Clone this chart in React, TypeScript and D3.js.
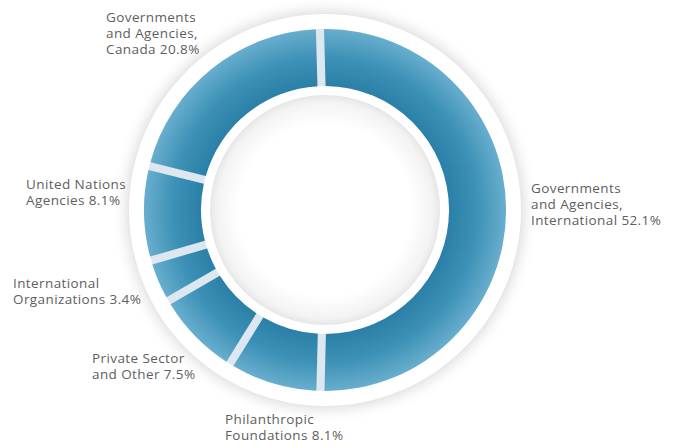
import React from "react";
import * as d3 from "d3";

const categories = [
  "Governments and Agencies, International",
  "Philanthropic Foundations",
  "Private Sector and Other",
  "International Organizations",
  "United Nations Agencies",
  "Governments and Agencies, Canada",
];
const values = [52.1, 8.1, 7.5, 3.4, 8.1, 20.8];
const labelLines = [
  ["Governments", "and Agencies,", "International 52.1%"],
  ["Philanthropic", "Foundations 8.1%"],
  ["Private Sector", "and Other 7.5%"],
  ["International", "Organizations 3.4%"],
  ["United Nations", "Agencies 8.1%"],
  ["Governments", "and Agencies,", "Canada 20.8%"],
];

const W = 673;
const H = 447;
const cx = 325;
const cy = 210;
const rOuter = 181;
const rInner = 124;
const labelPos: [number, number][] = [
  [531, 193],
  [225, 424],
  [92, 363],
  [13, 288],
  [26, 189],
  [106, 22],
];

export default function App() {
  const pie = d3
    .pie<number>()
    .sort(null)
    .startAngle(-0.028)
    .endAngle(-0.028 + Math.PI * 2)
    .padAngle(0.037);
  const arcs = pie(values);
  const arc = d3.arc<d3.PieArcDatum<number>>().innerRadius(rInner).outerRadius(rOuter);
  const ring = d3.arc()({ innerRadius: rInner, outerRadius: rOuter, startAngle: 0, endAngle: Math.PI * 2 }) || "";
  return (
    <svg width={W} height={H} style={{ position: "absolute", left: 0, top: 0, background: "#fff" }}>
      <defs>
        <radialGradient id="outerShadow" gradientUnits="userSpaceOnUse" cx={cx} cy={cy} r={214}>
          <stop offset="0.88" stopColor="#c8c8c8" stopOpacity={0.9} />
          <stop offset="0.93" stopColor="#e2e2e2" stopOpacity={0.6} />
          <stop offset="1" stopColor="#ffffff" stopOpacity={0} />
        </radialGradient>
        <radialGradient id="seg" gradientUnits="userSpaceOnUse" cx={0} cy={0} r={rOuter}>
          <stop offset="0.68" stopColor="#2a7fa6" />
          <stop offset="0.84" stopColor="#3d91b7" />
          <stop offset="1" stopColor="#68aece" />
        </radialGradient>
        <radialGradient id="innerShadow" gradientUnits="userSpaceOnUse" cx={cx} cy={cy} r={115}>
          <stop offset="0.75" stopColor="#ffffff" />
          <stop offset="0.94" stopColor="#f3f3f3" />
          <stop offset="1" stopColor="#e6e6e6" />
        </radialGradient>
      </defs>
      <circle cx={cx} cy={cy} r={214} fill="url(#outerShadow)" />
      <circle cx={cx} cy={cy} r={196} fill="#ffffff" />
      <g transform={`translate(${cx},${cy})`}>
        <path d={ring} fill="#dce7f0" />
        {arcs.map((a, i) => (
          <path key={categories[i]} d={arc(a) || ""} fill="url(#seg)" />
        ))}
      </g>
      <circle cx={cx} cy={cy} r={115} fill="url(#innerShadow)" />
      <g fontFamily="'Open Sans', sans-serif" fontSize={13.5} letterSpacing={0.4} fill="#5e5e5e">
        {labelLines.map((lines, i) =>
          lines.map((l, j) => (
            <text key={`${i}-${j}`} x={labelPos[i][0]} y={labelPos[i][1] + j * 16}>
              {l}
            </text>
          ))
        )}
      </g>
    </svg>
  );
}
